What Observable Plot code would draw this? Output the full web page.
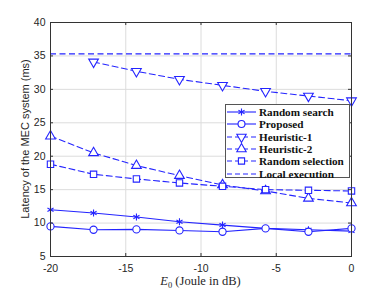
<!DOCTYPE html>
<html><head><meta charset="utf-8">
<script src="https://cdn.jsdelivr.net/npm/d3@7"></script>
<script src="https://cdn.jsdelivr.net/npm/@observablehq/plot@0.6"></script>
<style>
body{margin:0;background:#fff;}
#wrap{position:relative;width:388px;height:291px;}
#legend{position:absolute;left:225px;top:104px;width:125px;height:74px;border:1px solid #555;background:#fff;box-sizing:border-box;padding-top:1px;}
.row{display:flex;align-items:center;height:12.3px;font-family:"Liberation Serif",serif;font-weight:bold;font-size:11.2px;color:#111;white-space:nowrap;}
.row svg{margin-left:1px;margin-right:3px;flex:none;}
</style></head>
<body><div id="wrap"><div id="legend"></div></div>
<script>
const xVals = [-20, -17.14, -14.29, -11.43, -8.57, -5.71, -2.86, 0];
const randomSearch = [12.0, 11.5, 10.9, 10.2, 9.7, 9.2, 9.0, 8.8];
const proposed = [9.5, 9.0, 9.05, 8.9, 8.7, 9.2, 8.7, 9.2];
const heuristic1 = [null, 34.1, 32.7, 31.5, 30.6, 29.7, 29.0, 28.3];
const heuristic2 = [23.0, 20.5, 18.6, 17.1, 15.7, 14.8, 13.7, 13.0];
const randomSelection = [18.8, 17.3, 16.6, 16.0, 15.5, 15.0, 14.9, 14.8];
const localExecution = 35.3;
const xTicks = [-20, -15, -10, -5, 0];
const yTicks = [5, 10, 15, 20, 25, 30, 35, 40];
const seriesNames = ["Random search", "Proposed", "Heuristic-1", "Heuristic-2", "Random selection", "Local execution"];

const blue = "#2424ff";
const dash = "6,3.5";
const series = [
  {name: seriesNames[0], vals: randomSearch, symbol: "asterisk", dashed: false, rotate: 0},
  {name: seriesNames[1], vals: proposed, symbol: "circle", dashed: false, rotate: 0},
  {name: seriesNames[2], vals: heuristic1, symbol: "triangle", dashed: true, rotate: 180},
  {name: seriesNames[3], vals: heuristic2, symbol: "triangle", dashed: true, rotate: 0},
  {name: seriesNames[4], vals: randomSelection, symbol: "square", dashed: true, rotate: 0}
];
const table = s => xVals.map((x, i) => ({x, y: s.vals[i]})).filter(d => d.y != null);

const W = 388, H = 291, mL = 50, mR = 37, mT = 22, mB = 35;
const marks = [
  Plot.gridX(xTicks, {stroke: "#dcdcdc", strokeOpacity: 1}),
  Plot.gridY(yTicks, {stroke: "#dcdcdc", strokeOpacity: 1}),
  Plot.ruleY([localExecution], {stroke: blue, strokeWidth: 1.1, strokeDasharray: dash})
];
for (const s of series) {
  const d = table(s);
  marks.push(Plot.line(d, {x: "x", y: "y", stroke: blue, strokeWidth: 1.1, strokeDasharray: s.dashed ? dash : null}));
  marks.push(Plot.dot(d, {x: "x", y: "y", symbol: () => s.symbol, r: s.symbol === "asterisk" ? 3.3 : 3.6, stroke: blue, fill: "white", strokeWidth: 1.1, rotate: s.rotate}));
}
const fh = H - mT - mB, fw = W - mL - mR;
const fmt = d => String(d);
marks.push(
  Plot.ruleX(xTicks, {x: d => d, insetTop: fh - 3, stroke: "#333"}),
  Plot.ruleX(xTicks, {x: d => d, insetBottom: fh - 3, stroke: "#333"}),
  Plot.ruleY(yTicks, {y: d => d, insetRight: fw - 3, stroke: "#333"}),
  Plot.ruleY(yTicks, {y: d => d, insetLeft: fw - 3, stroke: "#333"}),
  Plot.frame({stroke: "#333", strokeWidth: 1}),
  Plot.axisX(xTicks, {tickSize: 0, tickPadding: 8, fontSize: 10.5, fill: "#262626", label: null, fontFamily: "Liberation Sans", tickFormat: fmt}),
  Plot.axisY(yTicks, {tickSize: 0, tickPadding: 5, fontSize: 10.5, fill: "#262626", label: null, fontFamily: "Liberation Sans", tickFormat: fmt})
);
const chart = Plot.plot({
  width: W, height: H,
  marginLeft: mL, marginRight: mR, marginTop: mT, marginBottom: mB,
  x: {domain: [-20, 0]},
  y: {domain: [5, 40]},
  style: {background: "white", overflow: "visible"},
  marks
});
const svg = d3.select(chart);
svg.append("text").attr("transform", `translate(25,${mT + fh/2}) rotate(-90)`)
  .attr("text-anchor", "middle").attr("dominant-baseline", "central")
  .attr("font-family", "Liberation Sans").attr("font-size", 11).attr("fill", "#262626")
  .text("Latency of the MEC system (ms)");
const xl = svg.append("text").attr("x", mL + fw/2).attr("y", 285)
  .attr("text-anchor", "middle").attr("font-family", "Liberation Serif").attr("font-size", 12.5).attr("fill", "#262626");
xl.append("tspan").attr("font-style", "italic").text("E");
xl.append("tspan").attr("font-size", 8.5).attr("dy", 2.5).text("0");
xl.append("tspan").attr("dy", -2.5).text(" (Joule in dB)");
document.getElementById("wrap").prepend(chart);
chart.style.position = "absolute"; chart.style.left = "0"; chart.style.top = "0";

// legend
const leg = d3.select("#legend");
const legendItems = [...series, {name: seriesNames[5], symbol: null, dashed: true, rotate: 0}];
for (const s of legendItems) {
  const row = leg.append("div").attr("class", "row");
  const sv = row.append("svg").attr("width", 29).attr("height", 12);
  sv.append("line").attr("x1", 0).attr("x2", 29).attr("y1", 6).attr("y2", 6)
    .attr("stroke", blue).attr("stroke-width", 1.1).attr("stroke-dasharray", s.dashed ? "5,3" : null);
  if (s.symbol) {
    const sym = {asterisk: d3.symbolAsterisk, circle: d3.symbolCircle, triangle: d3.symbolTriangle, square: d3.symbolSquare}[s.symbol];
    sv.append("path").attr("d", d3.symbol(sym, s.symbol === "asterisk" ? 34 : 38)())
      .attr("transform", `translate(14.5,6) rotate(${s.rotate})`)
      .attr("fill", "white").attr("stroke", blue).attr("stroke-width", 1.1);
  }
  row.append("span").text(s.name);
}
</script></body></html>
